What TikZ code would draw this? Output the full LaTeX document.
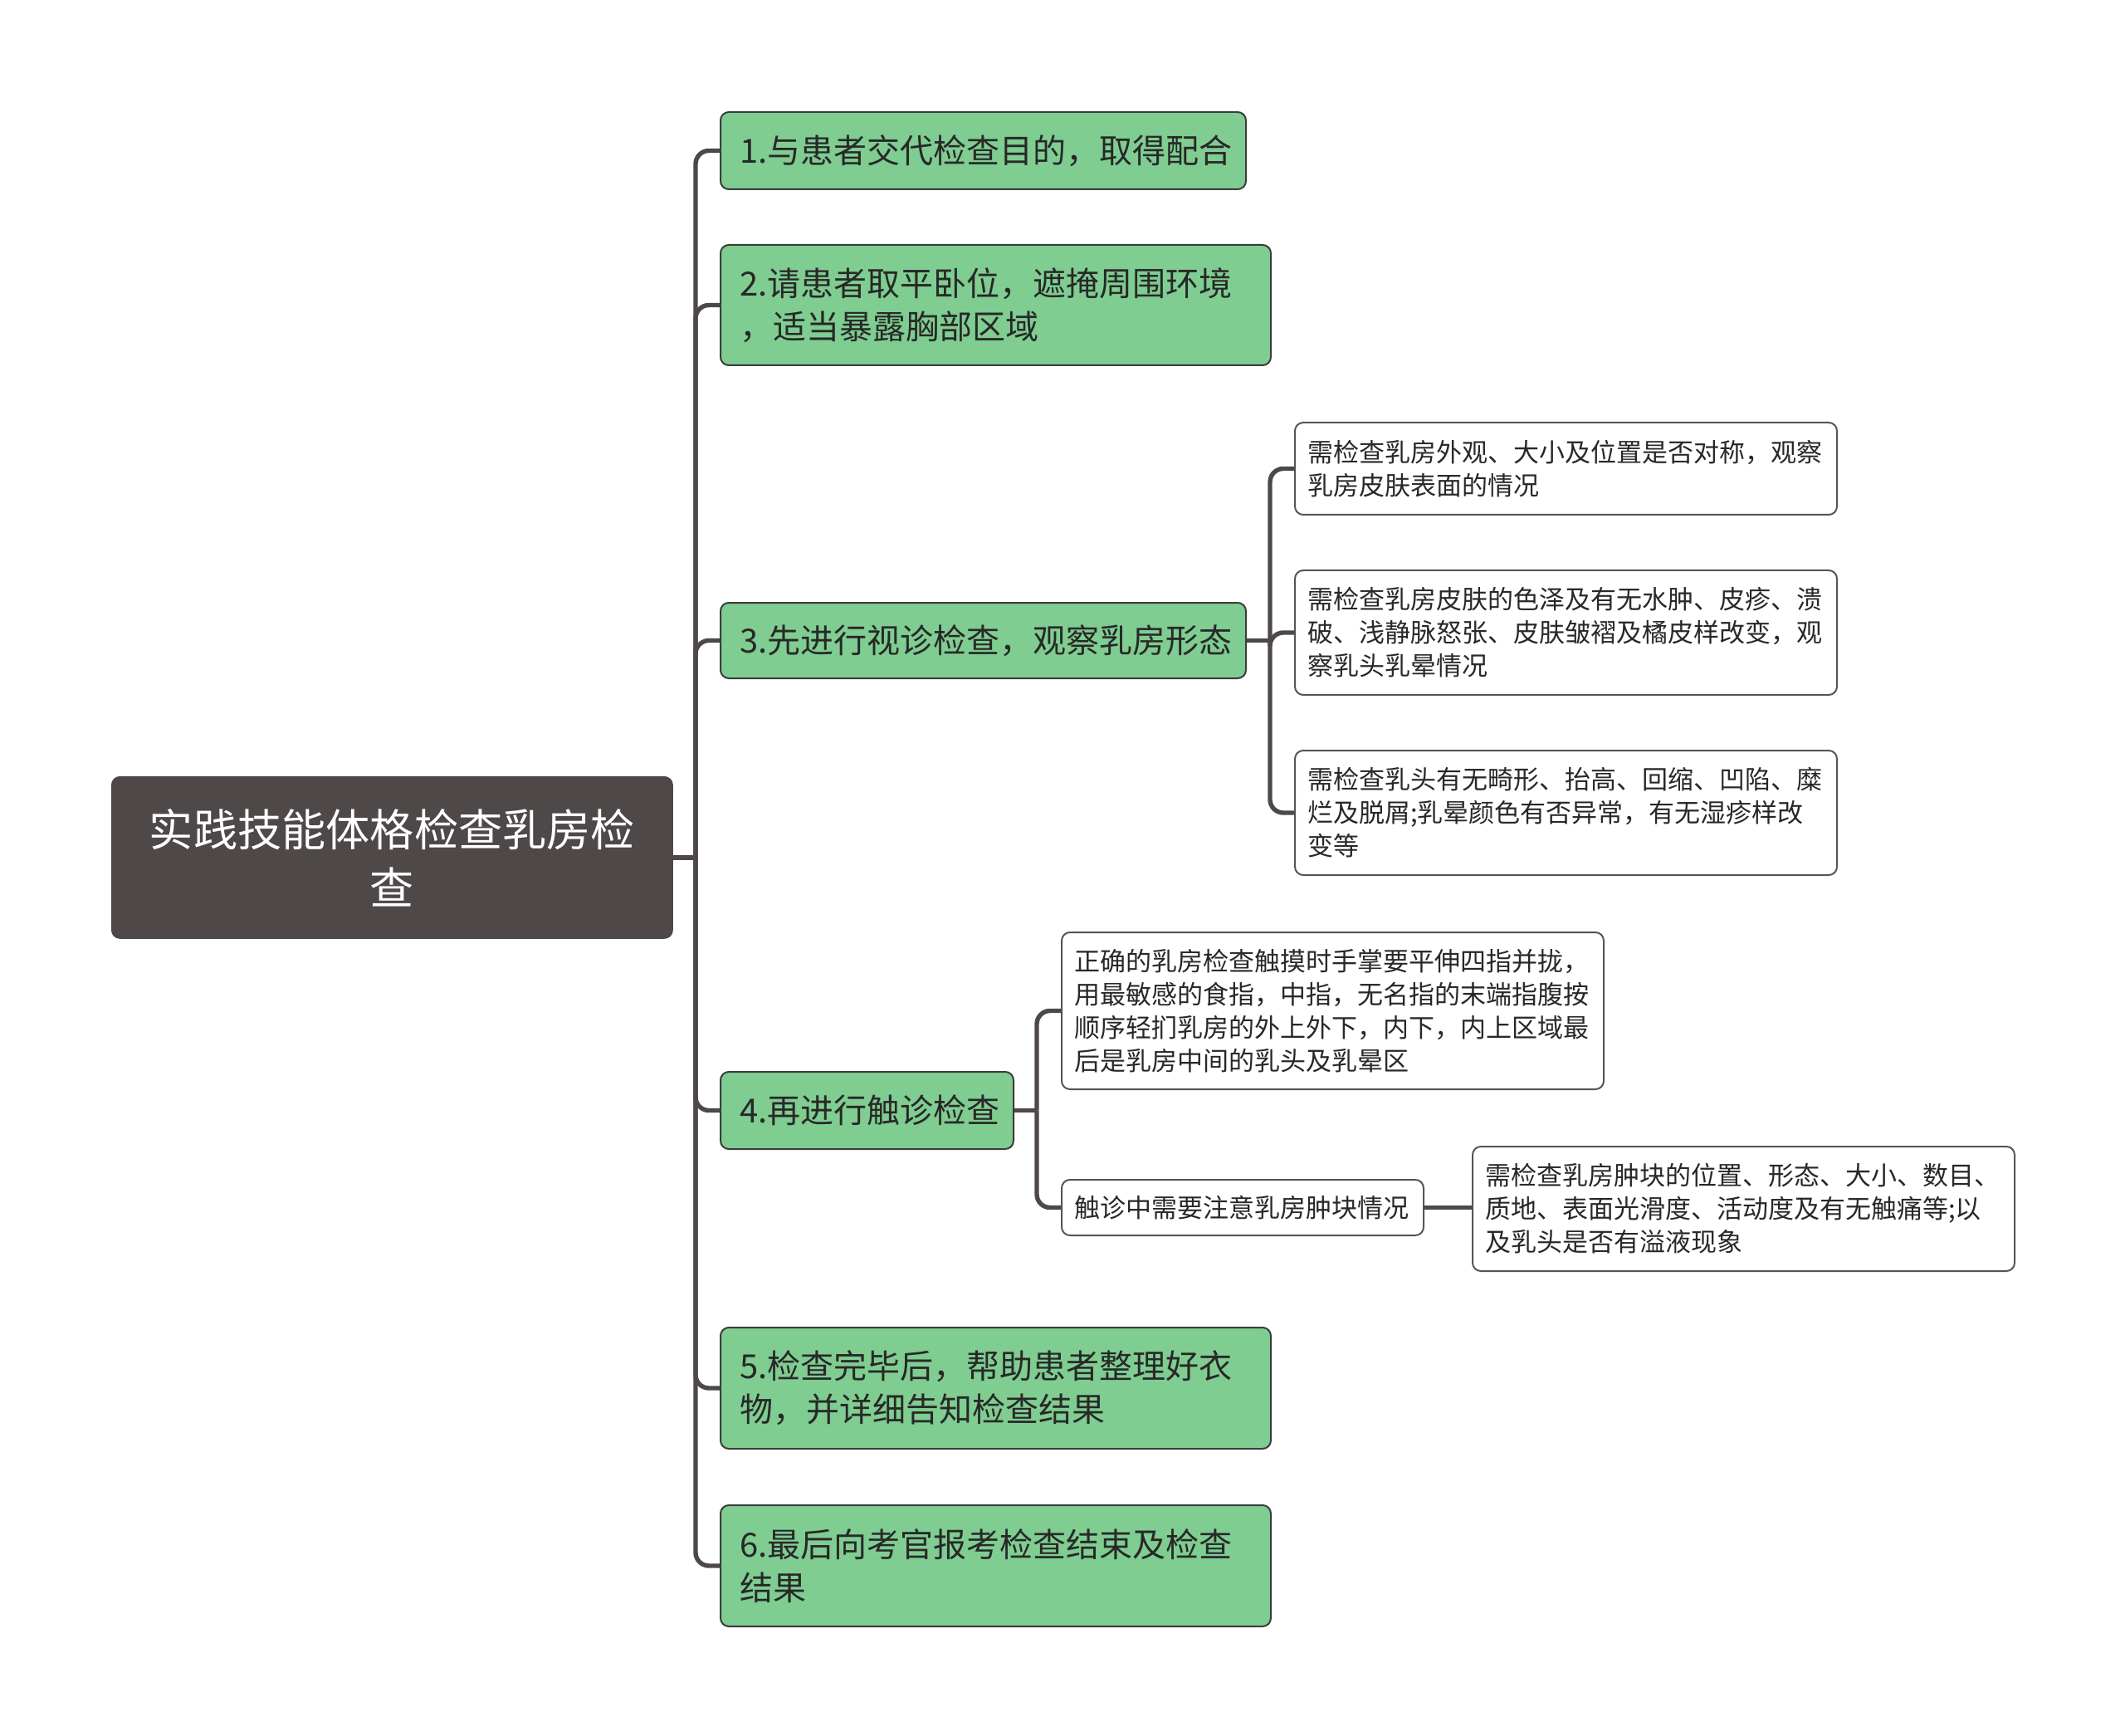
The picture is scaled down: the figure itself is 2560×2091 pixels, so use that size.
\documentclass[tikz,border=0pt]{standalone}
\usepackage{fontspec}
\setmainfont{Noto Sans CJK SC}
\definecolor{topicgray}{RGB}{78,72,72}
\definecolor{stepgreen}{RGB}{127,205,145}
\definecolor{boxline}{RGB}{60,60,60}
\definecolor{noteline}{RGB}{85,85,85}
\definecolor{textdark}{RGB}{40,40,40}
\definecolor{linkgray}{RGB}{78,72,72}

\begin{document}
\begin{tikzpicture}[x=0.5pt,y=-0.5pt,
	topic/.style={rectangle, rounded corners=5pt, fill=topicgray, draw=topicgray, text=white, align=center, inner xsep=15pt, inner ysep=0pt, anchor=north west, font=\fontsize{26.6}{35}\selectfont},
	stepbox/.style={rectangle, rounded corners=5pt, fill=stepgreen, draw=boxline, line width=1pt, text=textdark, align=left, inner xsep=11.5pt, inner ysep=0pt, anchor=north west, font=\fontsize{20}{26}\selectfont},
	note/.style={rectangle, rounded corners=5pt, fill=white, draw=noteline, line width=1pt, text=textdark, align=left, inner xsep=7.5pt, inner ysep=0pt, anchor=north west, font=\fontsize{15.5}{20}\selectfont},
	link/.style={draw=linkgray, line width=2.7pt, rounded corners=8pt}]
	
	\useasboundingbox (0,0) rectangle (2560,2091);
	
	%Nodes
	\node[topic, text width=308pt, minimum height=97.5pt]	(root)	at (134,935)	{实践技能体格检查乳房检\\查};
	
	\node[stepbox, text width=293.5pt, minimum height=46.5pt]	(st1)	at (867,134)	{1.与患者交代检查目的，取得配合};
	\node[stepbox, text width=308.5pt, minimum height=72.5pt]	(st2)	at (867,294)	{2.请患者取平卧位，遮掩周围环境\\，适当暴露胸部区域};
	\node[stepbox, text width=293.5pt, minimum height=45.5pt]	(st3)	at (867,725)	{3.先进行视诊检查，观察乳房形态};
	\node[stepbox, text width=153.5pt, minimum height=46.5pt]	(st4)	at (867,1290)	{4.再进行触诊检查};
	\node[stepbox, text width=308.5pt, minimum height=73pt]	(st5)	at (867,1598)	{5.检查完毕后，帮助患者整理好衣\\物，并详细告知检查结果};
	\node[stepbox, text width=308.5pt, minimum height=73pt]	(st6)	at (867,1812)	{6.最后向考官报考检查结束及检查\\结果};
	
	\node[note, text width=311.5pt, minimum height=55.5pt]	(look1)	at (1559,508)	{需检查乳房外观、大小及位置是否对称，观察\\乳房皮肤表面的情况};
	\node[note, text width=311.5pt, minimum height=75pt]	(look2)	at (1559,686)	{需检查乳房皮肤的色泽及有无水肿、皮疹、溃\\破、浅静脉怒张、皮肤皱褶及橘皮样改变，观\\察乳头乳晕情况};
	\node[note, text width=311.5pt, minimum height=75pt]	(look3)	at (1559,903)	{需检查乳头有无畸形、抬高、回缩、凹陷、糜\\烂及脱屑;乳晕颜色有否异常，有无湿疹样改\\变等};
	
	\node[note, text width=311.5pt, minimum height=94.5pt]	(touch1)	at (1278,1122)	{正确的乳房检查触摸时手掌要平伸四指并拢，\\用最敏感的食指，中指，无名指的末端指腹按\\顺序轻扪乳房的外上外下，内下，内上区域最\\后是乳房中间的乳头及乳晕区};
	\node[note, text width=203pt, minimum height=33.5pt]	(touch2)	at (1278,1420)	{触诊中需要注意乳房肿块情况};
	\node[note, text width=311.5pt, minimum height=75pt]	(lump)	at (1773,1380)	{需检查乳房肿块的位置、形态、大小、数目、\\质地、表面光滑度、活动度及有无触痛等;以\\及乳头是否有溢液现象};
	
	\coordinate (tx) at (838,0);
	\coordinate (t3) at (1530,0);
	\coordinate (t4) at (1249,0);
	
	%Lines
	\draw[link] (root.east) -- (tx |- root.east);
	\draw[link] (tx |- root.east) |- (st1.west);
	\draw[link] (tx |- root.east) |- (st2.west);
	\draw[link] (tx |- root.east) |- (st3.west);
	\draw[link] (tx |- root.east) |- (st4.west);
	\draw[link] (tx |- root.east) |- (st5.west);
	\draw[link] (tx |- root.east) |- (st6.west);
	
	\draw[link] (st3.east) -- (t3 |- st3.east);
	\draw[link] (t3 |- st3.east) |- (look1.west);
	\draw[link] (t3 |- st3.east) |- (look2.west);
	\draw[link] (t3 |- st3.east) |- (look3.west);
	
	\draw[link] (st4.east) -- (t4 |- st4.east);
	\draw[link] (t4 |- st4.east) |- (touch1.west);
	\draw[link] (t4 |- st4.east) |- (touch2.west);
	
	\draw[link] (touch2.east) -- (touch2.east -| lump.west);
\end{tikzpicture}
\end{document}
